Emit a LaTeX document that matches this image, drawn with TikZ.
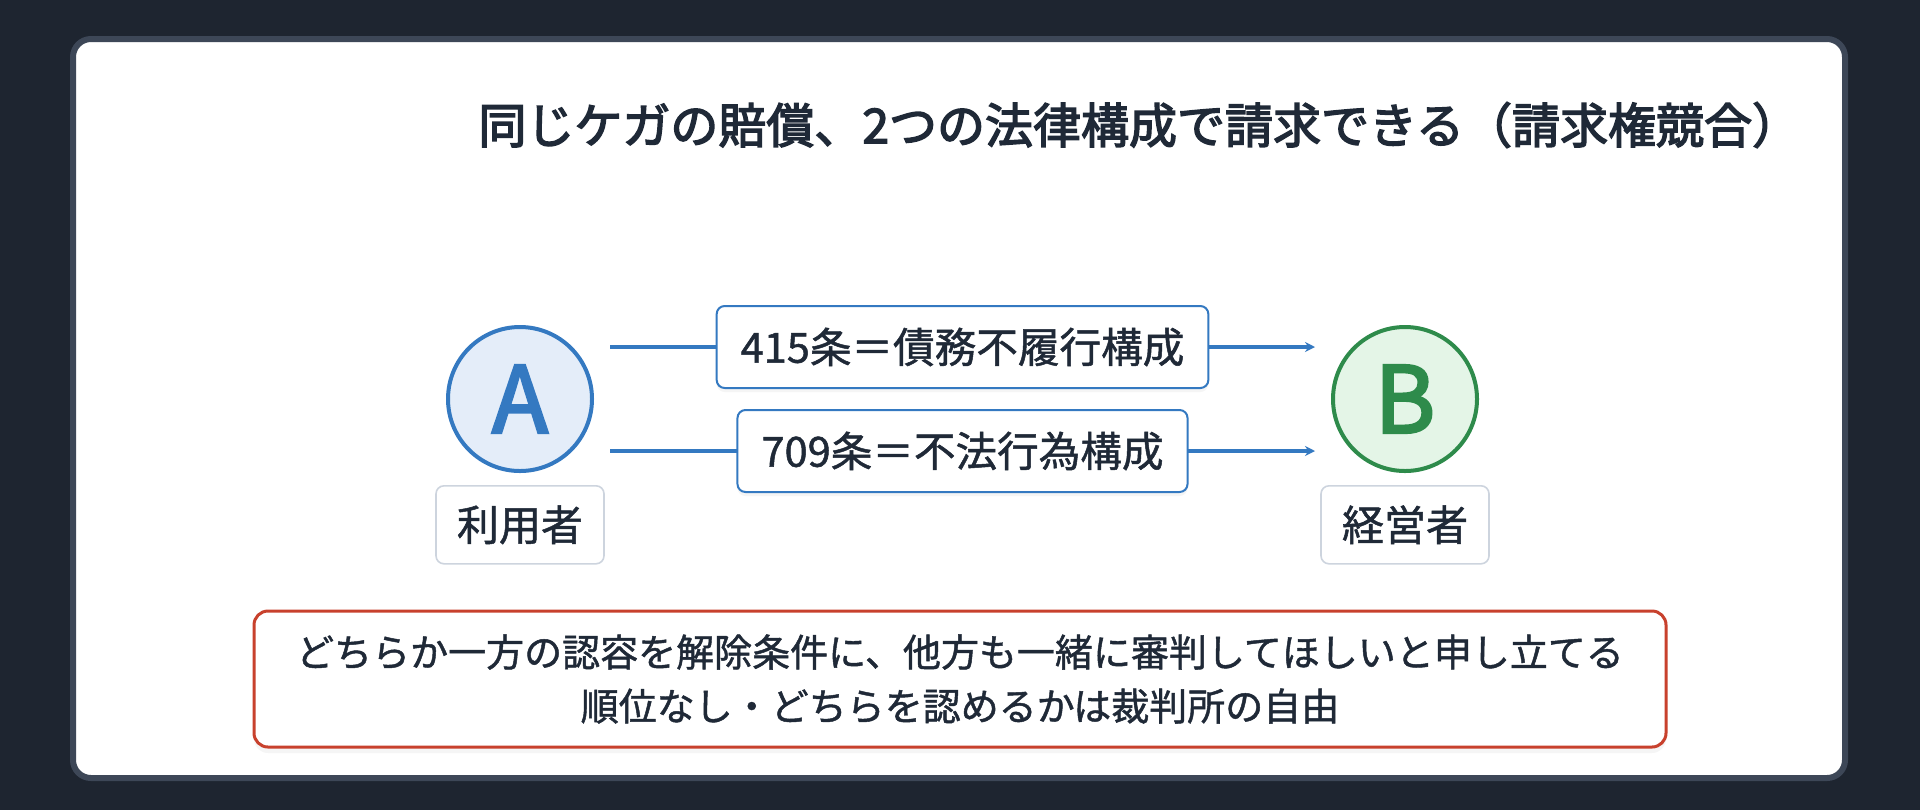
\documentclass[tikz,border=0pt]{standalone}
\usepackage{fontspec}
\setmainfont{Noto Sans CJK JP}
\newfontfamily\medfont[FakeBold=1.2]{Noto Sans CJK JP}
\newfontfamily\semifont[FakeBold=3]{Noto Sans CJK JP}
\usetikzlibrary{positioning,arrows.meta,shadows}
\definecolor{bgdark}{HTML}{1E2530}
\definecolor{cardline}{HTML}{3D4757}
\definecolor{ink}{HTML}{1F2937}
\definecolor{ablue}{HTML}{3479C1}
\definecolor{afill}{HTML}{E4EDF9}
\definecolor{bgreen}{HTML}{2E8B4B}
\definecolor{bfill}{HTML}{E4F5E7}
\definecolor{tagline}{HTML}{CDD4DE}
\definecolor{nred}{HTML}{C8412D}
\begin{document}
\begin{tikzpicture}[x=0.5pt,y=-0.5pt,
    actor/.style={draw,circle,line width=2pt,minimum size=72pt,inner sep=0pt,font=\fontsize{46}{46}\selectfont\semifont},
    tag/.style={draw=tagline,fill=white,rounded corners=4pt,line width=0.8pt,minimum width=84pt,minimum height=39pt,text=ink,font=\fontsize{21}{21}\selectfont\medfont},
    law/.style={draw=ablue,fill=white,rounded corners=4pt,line width=1pt,minimum height=41pt,inner xsep=12pt,text=ink,font=\fontsize{20.8}{20.8}\selectfont\medfont,drop shadow={opacity=0.08,shadow xshift=0pt,shadow yshift=-2pt}},
    link/.style={ablue,line width=1.75pt,-{Stealth[length=5pt,width=5pt]},shorten <=8pt,shorten >=8pt},
    node distance=6pt]
    \useasboundingbox (0,0) rectangle (1920,810);
    \fill[bgdark] (0,0) rectangle (1920,810);
    \draw[cardline,fill=white,line width=3pt,rounded corners=9pt] (73,39) rectangle (1845,778);
    % title
    \node[anchor=west,inner sep=0pt,text=ink,font=\fontsize{24}{24}\selectfont\semifont](title) at (478,125) {同じケガの賠償、2つの法律構成で請求できる（請求権競合）};
    % parties
    \node[actor,draw=ablue,fill=afill,text=ablue](A) at (520,399) {A};
    \node[actor,draw=bgreen,fill=bfill,text=bgreen](B) at (1405,399) {B};
    \node[tag](userA)[below=of A] {利用者};
    \node[tag](ownerB)[below=of B] {経営者};
    % two claims
    \draw[link]([yshift=26pt]A.east) -- node[law](law415){415条＝債務不履行構成} ([yshift=26pt]B.west);
    \draw[link]([yshift=-26pt]A.east) -- node[law](law709){709条＝不法行為構成} ([yshift=-26pt]B.west);
    % note
    \node[draw=nred,fill=white,line width=1.5pt,rounded corners=7pt,minimum width=706pt,minimum height=68pt,align=center,text=ink,font=\fontsize{19}{27}\selectfont\medfont,drop shadow={opacity=0.08,shadow xshift=0pt,shadow yshift=-3pt}](note) at (960,679) {どちらか一方の認容を解除条件に、他方も一緒に審判してほしいと申し立てる\\順位なし・どちらを認めるかは裁判所の自由};
\end{tikzpicture}
\end{document}
